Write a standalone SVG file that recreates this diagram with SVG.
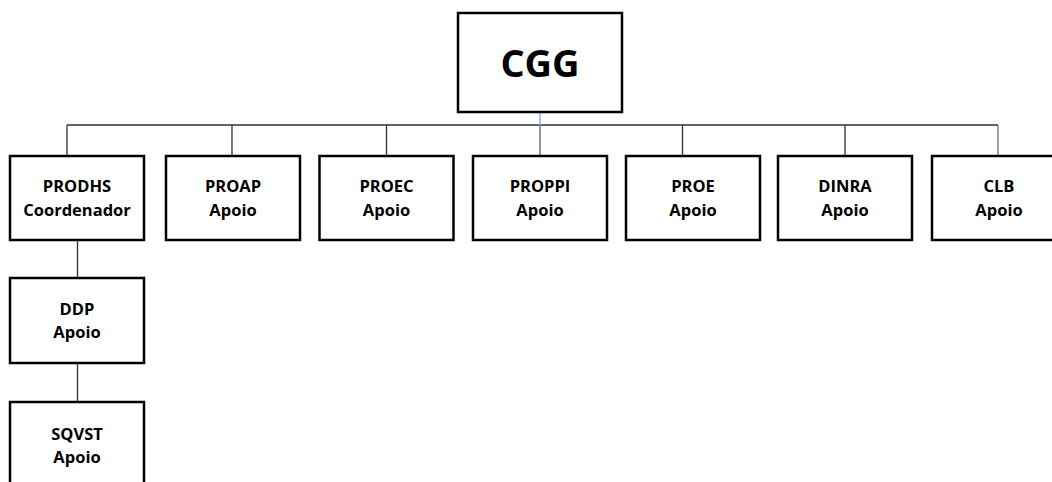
<svg xmlns="http://www.w3.org/2000/svg" width="1052" height="482" viewBox="0 0 1052 482">
<style>
.box{fill:#fff;stroke:#000;stroke-width:2.5}
.lbl{font-family:"Open Sans","Liberation Sans",sans-serif;font-weight:bold;font-size:16.5px;text-anchor:middle;fill:#000}
.big{font-family:"Open Sans","Liberation Sans",sans-serif;font-weight:bold;font-size:38px;text-anchor:middle;fill:#000}
.ln{stroke:#303030;stroke-width:1.3;fill:none}
</style>
<rect width="1052" height="482" fill="#fff"/>
<g id="connectors">
<line class="ln" x1="67" y1="125" x2="998" y2="125"/>
<line x1="540" y1="112" x2="540" y2="125" stroke="#8eb4e3" stroke-width="1.5"/>
<line x1="540" y1="125" x2="540" y2="156" stroke="#707070" stroke-width="1.5"/>
<line class="ln" x1="67" y1="125" x2="67" y2="156"/>
<line class="ln" x1="232" y1="125" x2="232" y2="156"/>
<line class="ln" x1="386.5" y1="125" x2="386.5" y2="156"/>
<line class="ln" x1="682.5" y1="125" x2="682.5" y2="156"/>
<line class="ln" x1="845" y1="125" x2="845" y2="156"/>
<line x1="998" y1="125" x2="998" y2="156" stroke="#707070" stroke-width="1.3"/>
<line class="ln" x1="77.5" y1="240" x2="77.5" y2="278"/>
<line class="ln" x1="77.5" y1="363" x2="77.5" y2="402"/>
</g>
<g id="CGG"><rect class="box" x="458" y="13" width="164" height="99" stroke-width="3"/><text class="big" x="540" y="77">CGG</text></g>
<g id="PRODHS"><rect class="box" x="10" y="156" width="134" height="84"/><text class="lbl" x="77" y="192">PRODHS</text><text class="lbl" x="77" y="216">Coordenador</text></g>
<g id="PROAP"><rect class="box" x="166" y="156" width="134" height="84"/><text class="lbl" x="233" y="192">PROAP</text><text class="lbl" x="233" y="216">Apoio</text></g>
<g id="PROEC"><rect class="box" x="319.5" y="156" width="134" height="84"/><text class="lbl" x="386.5" y="192">PROEC</text><text class="lbl" x="386.5" y="216">Apoio</text></g>
<g id="PROPPI"><rect class="box" x="473" y="156" width="134" height="84"/><text class="lbl" x="540" y="192">PROPPI</text><text class="lbl" x="540" y="216">Apoio</text></g>
<g id="PROE"><rect class="box" x="626" y="156" width="134" height="84"/><text class="lbl" x="693" y="192">PROE</text><text class="lbl" x="693" y="216">Apoio</text></g>
<g id="DINRA"><rect class="box" x="778" y="156" width="134" height="84"/><text class="lbl" x="845" y="192">DINRA</text><text class="lbl" x="845" y="216">Apoio</text></g>
<g id="CLB"><rect class="box" x="932" y="156" width="134" height="84"/><text class="lbl" x="999" y="192">CLB</text><text class="lbl" x="999" y="216">Apoio</text></g>
<g id="DDP"><rect class="box" x="10" y="278" width="134" height="85"/><text class="lbl" x="77" y="315">DDP</text><text class="lbl" x="77" y="338">Apoio</text></g>
<g id="SQVST"><rect class="box" x="10" y="402" width="134" height="90"/><text class="lbl" x="77" y="440">SQVST</text><text class="lbl" x="77" y="463">Apoio</text></g>
</svg>
